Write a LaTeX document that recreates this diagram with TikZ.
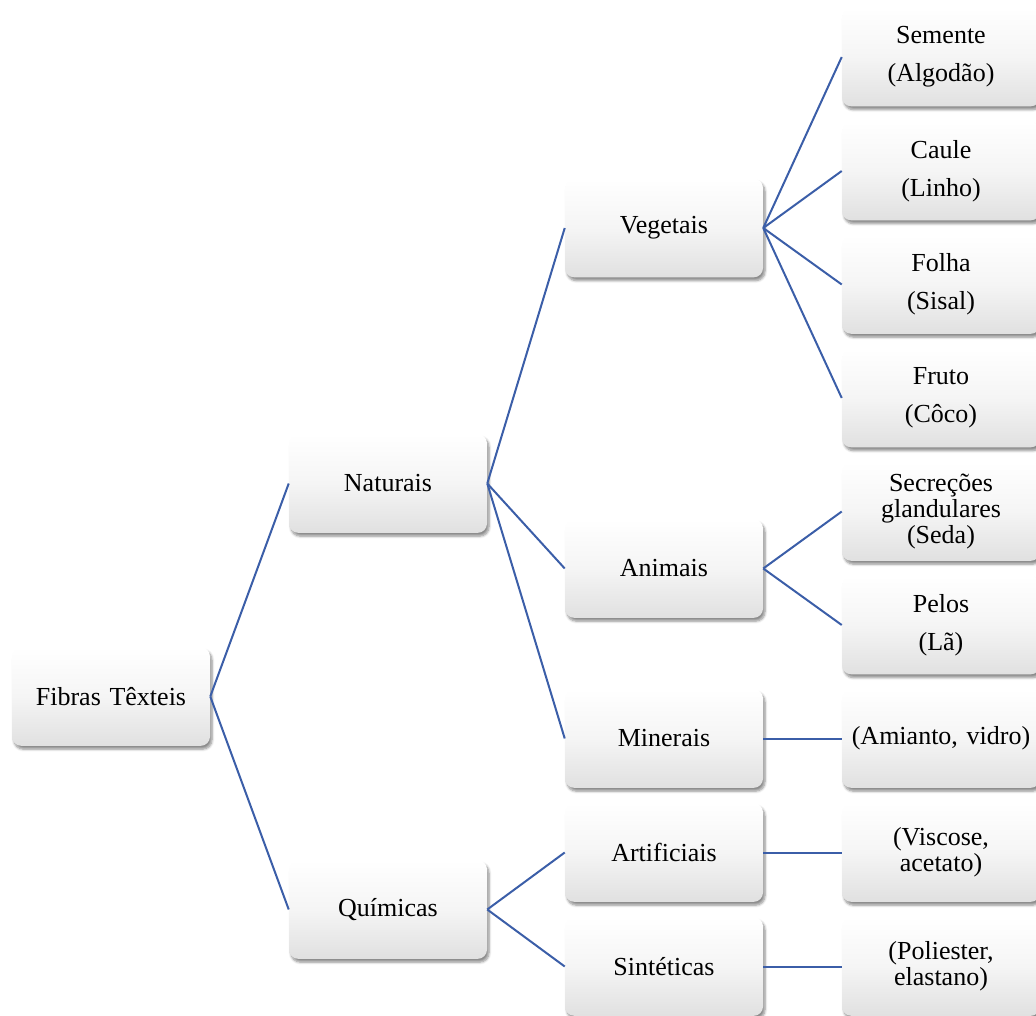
\documentclass[tikz,border=0pt]{standalone}
\usepackage{fontspec}
\setmainfont{Liberation Serif}
\usetikzlibrary{shadows.blur}
\definecolor{linkblue}{RGB}{59,94,168}
\tikzset{
  box/.style={rectangle, rounded corners=7pt, minimum width=148.5pt, minimum height=74pt,
    inner sep=2pt, align=center, text width=144pt,
    top color=white, bottom color=black!12, middle color=white!96!black,
    blur shadow={shadow xshift=1.5pt, shadow yshift=-2.5pt, shadow blur steps=6, shadow blur extra rounding=1.5pt, shadow opacity=45},
    font=\fontsize{19.5}{19.8}\selectfont},
  link/.style={draw=linkblue, line width=1.5pt}
}
\begin{document}
\begin{tikzpicture}[x=0.75pt,y=-0.75pt]
\useasboundingbox (0,0) rectangle (1036,1016);
\node[box] (root) at (111,696.5) {Fibras Têxteis};
\node[box] (nat) at (388,483.5) {Naturais};
\node[box] (qui) at (388,909.5) {Químicas};
\node[box] (veg) at (664,228) {Vegetais};
\node[box] (ani) at (664,568.5) {Animais};
\node[box] (min) at (664,738.5) {Minerais};
\node[box] (art) at (664,852.5) {Artificiais};
\node[box] (sin) at (664,966.5) {Sintéticas};
\node[box] (sem) at (941,57) {Semente\\[9pt](Algodão)};
\node[box] (cau) at (941,171) {Caule\\[9pt](Linho)};
\node[box] (fol) at (941,284.5) {Folha\\[9pt](Sisal)};
\node[box] (fru) at (941,398) {Fruto\\[9pt](Côco)};
\node[box] (sec) at (941,511.5) {Secreções\\glandulares\\(Seda)};
\node[box] (pel) at (941,625) {Pelos\\[9pt](Lã)};
\node[box] (ami) at (941,738.5) {(Amianto, vidro)};
\node[box] (vis) at (941,852.5) {(Viscose,\\acetato)};
\node[box] (pol) at (941,966.5) {(Poliester,\\elastano)};
\foreach \a/\b in {root/nat,root/qui,nat/veg,nat/ani,nat/min,qui/art,qui/sin,
  veg/sem,veg/cau,veg/fol,veg/fru,ani/sec,ani/pel,min/ami,art/vis,sin/pol}
  \draw[link] (\a.east) -- (\b.west);
\end{tikzpicture}
\end{document}
